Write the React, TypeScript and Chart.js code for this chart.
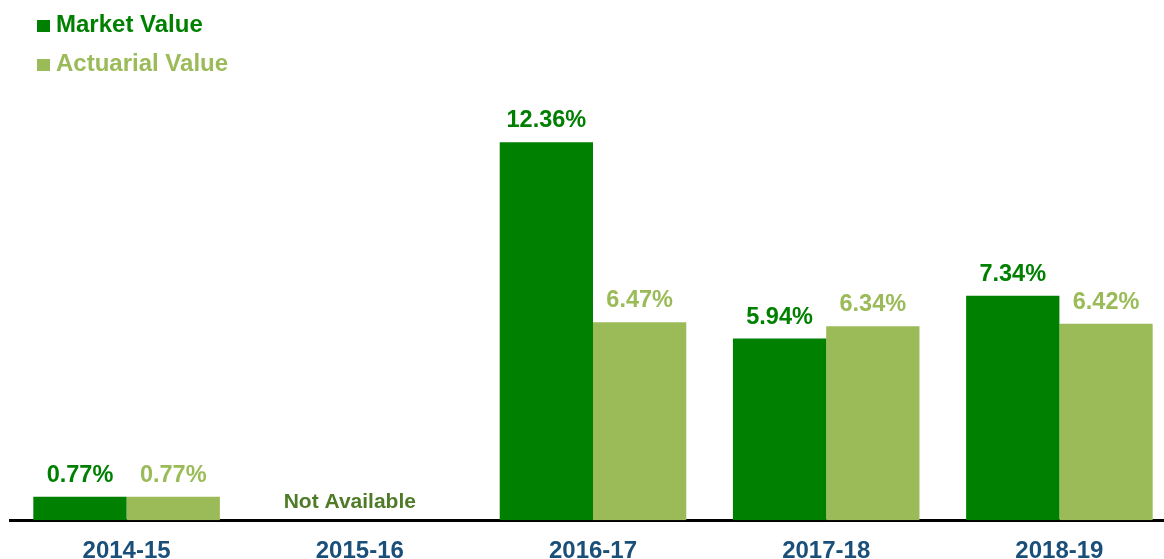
import React, { useEffect, useRef } from "react";
import { Chart, registerables } from "chart.js";

Chart.register(...registerables);

const categories = ["2014-15", "2015-16", "2016-17", "2017-18", "2018-19"];
const marketValue: (number | null)[] = [0.77, null, 12.36, 5.94, 7.34];
const actuarialValue: (number | null)[] = [0.77, null, 6.47, 6.34, 6.42];
const seriesLabels = ["Market Value", "Actuarial Value"];
const missingLabel = "Not Available";
const missingIndex = 1;

const MARKET = "#008000";
const ACTUARIAL = "#9BBB59";
const FONT = "'Liberation Sans', Arial, Helvetica, sans-serif";

const valueLabels = {
  id: "valueLabels",
  afterDatasetsDraw(chart: any) {
    const ctx = chart.ctx;
    ctx.save();
    ctx.font = `bold 23.5px ${FONT}`;
    ctx.textAlign = "center";
    ctx.textBaseline = "alphabetic";
    chart.data.datasets.forEach((ds: any, di: number) => {
      const meta = chart.getDatasetMeta(di);
      meta.data.forEach((el: any, i: number) => {
        const v = ds.data[i];
        if (v === null || v === undefined) return;
        ctx.fillStyle = ds.backgroundColor;
        ctx.fillText(v.toFixed(2) + "%", el.x, el.y - 15);
      });
    });
    const xs = chart.scales.x;
    const ys = chart.scales.y;
    ctx.font = `bold 21px ${FONT}`;
    ctx.fillStyle = "#4F7A28";
    ctx.fillText(missingLabel, xs.getPixelForValue(missingIndex) - 10, ys.getPixelForValue(0) - 12);
    ctx.restore();
  },
};

const customLegend = {
  id: "customLegend",
  afterDraw(chart: any) {
    const ctx = chart.ctx;
    ctx.save();
    ctx.font = `bold 24px ${FONT}`;
    ctx.textAlign = "left";
    ctx.textBaseline = "alphabetic";
    chart.data.datasets.forEach((ds: any, i: number) => {
      const base = 32 + i * 39;
      ctx.fillStyle = ds.backgroundColor;
      ctx.fillRect(37, base - 12, 13, 12);
      ctx.fillText(ds.label, 56, base);
    });
    ctx.restore();
  },
};

export default function App() {
  const ref = useRef<HTMLCanvasElement>(null);
  useEffect(() => {
    if (!ref.current) return;
    const chart = new Chart(ref.current, {
      type: "bar",
      data: {
        labels: categories,
        datasets: [
          { label: seriesLabels[0], data: marketValue, backgroundColor: MARKET, borderWidth: 0 },
          { label: seriesLabels[1], data: actuarialValue, backgroundColor: ACTUARIAL, borderWidth: 0 },
        ],
      },
      options: {
        animation: false,
        responsive: false,
        maintainAspectRatio: false,
        layout: { padding: { top: 92, left: 10, right: 0, bottom: 0 } },
        datasets: { bar: { categoryPercentage: 0.8, barPercentage: 1.0 } },
        plugins: {
          legend: { display: false },
          tooltip: { enabled: false },
          title: { display: false },
        },
        scales: {
          x: {
            grid: { display: false, drawTicks: false },
            border: { display: true, color: "#000000", width: 3 },
            ticks: {
              color: "#1A4F7A",
              font: { family: FONT, size: 24, weight: "bold", lineHeight: 1.2 },
              padding: 17,
            },
          },
          y: {
            display: false,
            min: 0,
            max: 14,
          },
        },
      },
      plugins: [valueLabels, customLegend],
    });
    return () => chart.destroy();
  }, []);
  return (
    <div style={{ position: "fixed", left: 0, top: 0, width: 1164, height: 559, overflow: "hidden", background: "#fff" }}>
      <canvas ref={ref} width={1176} height={583} style={{ display: "block", width: 1176, height: 583 }} />
    </div>
  );
}
